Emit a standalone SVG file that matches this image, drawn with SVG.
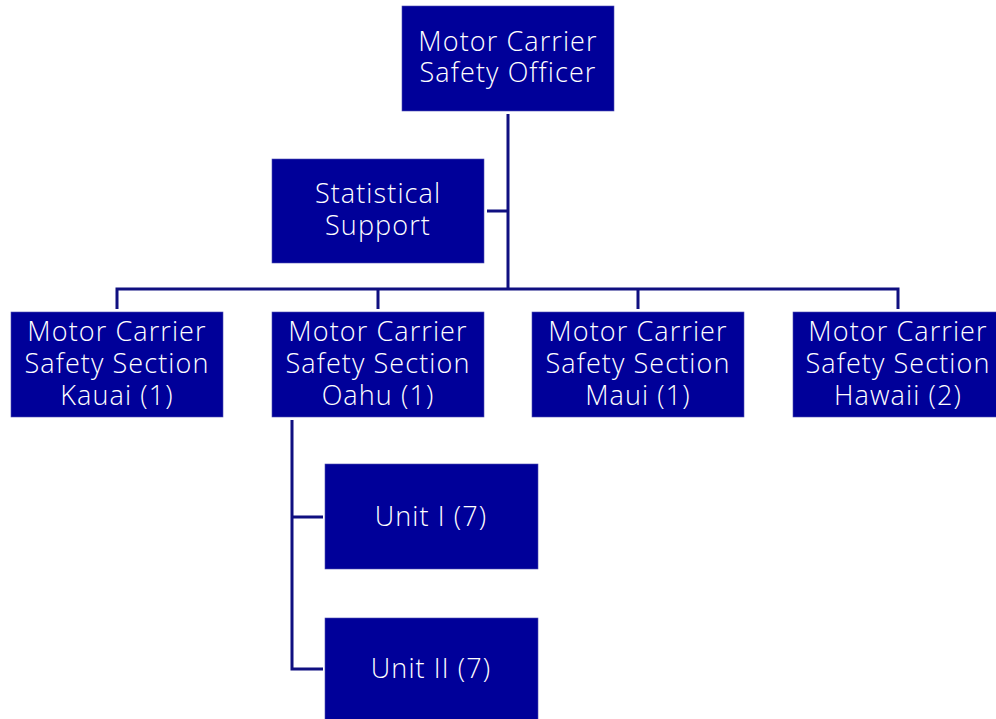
<svg xmlns="http://www.w3.org/2000/svg" width="996" height="719" viewBox="0 0 996 719">
<style>
.box{fill:#000099;stroke:#4d4db3;stroke-width:0.6}
.t{font-family:"Open Sans","Liberation Sans",sans-serif;font-size:27px;font-weight:300;letter-spacing:1.1px;fill:#ffffff;text-anchor:middle}
.c{fill:none;stroke:#0f0f80;stroke-width:3}
</style>
<rect width="996" height="719" fill="#ffffff"/>
<g id="connectors">
<path class="c" d="M508 114V289M487 211H508M117 309V289H898V309M378 289V309M638 289V309M292 420V669H323M292 517H323"/>
</g>
<g id="officer"><rect class="box" x="402" y="6" width="212" height="105"/><text class="t" x="508" y="51">Motor Carrier</text><text class="t" x="508" y="82">Safety Officer</text></g>
<g id="stat"><rect class="box" x="272" y="159" width="212" height="104"/><text class="t" x="378" y="203">Statistical</text><text class="t" x="378" y="235">Support</text></g>
<g id="kauai"><rect class="box" x="11" y="312" width="212" height="105"/><text class="t" x="117" y="341">Motor Carrier</text><text class="t" x="117" y="373">Safety Section</text><text class="t" x="117" y="405">Kauai (1)</text></g>
<g id="oahu"><rect class="box" x="272" y="312" width="212" height="105"/><text class="t" x="378" y="341">Motor Carrier</text><text class="t" x="378" y="373">Safety Section</text><text class="t" x="378" y="405">Oahu (1)</text></g>
<g id="maui"><rect class="box" x="532" y="312" width="212" height="105"/><text class="t" x="638" y="341">Motor Carrier</text><text class="t" x="638" y="373">Safety Section</text><text class="t" x="638" y="405">Maui (1)</text></g>
<g id="hawaii"><rect class="box" x="793" y="312" width="212" height="105"/><text class="t" x="898" y="341">Motor Carrier</text><text class="t" x="898" y="373">Safety Section</text><text class="t" x="898" y="405">Hawaii (2)</text></g>
<g id="unit1"><rect class="box" x="325" y="464" width="213" height="105"/><text class="t" x="431" y="526">Unit I (7)</text></g>
<g id="unit2"><rect class="box" x="325" y="618" width="213" height="105"/><text class="t" x="431" y="678">Unit II (7)</text></g>
</svg>
